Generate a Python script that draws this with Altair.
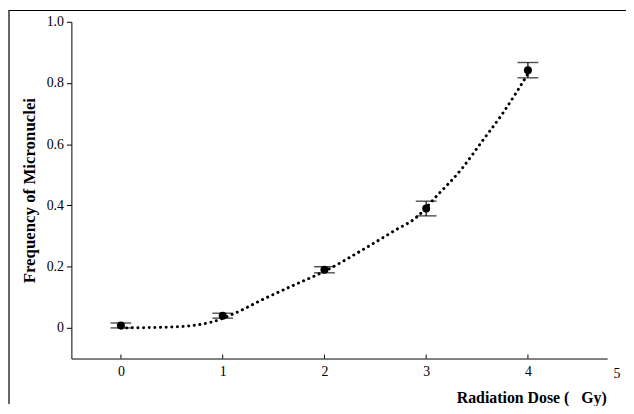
import altair as alt
import pandas as pd

# measured points (dose in Gy, micronucleus frequency, error)
dose = [0, 1, 2, 3, 4]
freq = [0.008, 0.04, 0.19, 0.39, 0.842]
err = [0.008, 0.008, 0.01, 0.024, 0.025]

# dotted fitted curve
curve_dose = [0.0, 0.5, 0.9, 1.1, 1.4, 1.7, 2.0, 2.4, 2.7, 2.9, 3.1, 3.35, 3.55, 3.75, 4.0]
curve_freq = [0.0, 0.003, 0.02, 0.045, 0.094, 0.14, 0.185, 0.26, 0.32, 0.36, 0.43, 0.52, 0.61, 0.70, 0.83]

x_ticks = [0, 1, 2, 3, 4]
y_ticks = [0, 0.2, 0.4, 0.6, 0.8, 1.0]
y_tick_labels = ["0", "0.2", "0.4", "0.6", "0.8", "1.0"]
last_x_label = "5"
x_title = "Radiation Dose (\u00a0\u00a0\u00a0Gy)"
y_title = "Frequency of Micronuclei"

pts = pd.DataFrame({"dose": dose, "freq": freq, "err": err})
pts["lo"] = pts["freq"] - pts["err"]
pts["hi"] = pts["freq"] + pts["err"]
curve = pd.DataFrame({"dose": curve_dose, "freq": curve_freq})
ticks = pd.DataFrame({"dose": x_ticks})

FONT = "Liberation Serif"
xs = alt.Scale(domain=[-0.487, 4.779], nice=False, zero=False)
ys = alt.Scale(domain=[-0.1, 1.0], nice=False, zero=False)

label_expr = "{" + ",".join(f"'{v:g}':'{l}'" for v, l in zip(y_ticks, y_tick_labels)) + "}[''+datum.value]"

x_axis = alt.Axis(values=x_ticks, format="d", ticks=False, labelPadding=6, labelFont=FONT,
                  labelFontSize=14, labelColor="black", domainColor="black",
                  grid=False, title=x_title, titleFont=FONT,
                  titleFontSize=16, titleFontWeight="bold", titleColor="black",
                  titleX=540, titleY=44, titleAlign="right", titleBaseline="alphabetic",
                  titleAngle=0)
y_axis = alt.Axis(values=y_ticks, labelExpr=label_expr, tickSize=5, tickColor="black",
                  labelPadding=3, labelFont=FONT, labelFontSize=14, labelColor="black",
                  domainColor="black", grid=False, title=y_title,
                  titleFont=FONT, titleFontSize=17, titleFontWeight="bold",
                  titleColor="black", titleX=-42, titleY=170, titleAngle=-90,
                  titleBaseline="middle", titleAlign="center")

line = alt.Chart(curve).mark_line(
    color="black", strokeWidth=3, strokeDash=[0.1, 5.6], strokeCap="round",
    interpolate="monotone"
).encode(
    x=alt.X("dose:Q", scale=xs, axis=x_axis),
    y=alt.Y("freq:Q", scale=ys, axis=y_axis),
)

bars = alt.Chart(pts).mark_rule(color="black", strokeWidth=1.2).encode(
    x=alt.X("dose:Q", scale=xs), y=alt.Y("lo:Q", scale=ys), y2="hi:Q"
)
cap_lo = alt.Chart(pts).mark_tick(color="black", orient="horizontal", size=21, thickness=1.4).encode(
    x=alt.X("dose:Q", scale=xs), y=alt.Y("lo:Q", scale=ys)
)
cap_hi = alt.Chart(pts).mark_tick(color="black", orient="horizontal", size=21, thickness=1.4).encode(
    x=alt.X("dose:Q", scale=xs), y=alt.Y("hi:Q", scale=ys)
)
points = alt.Chart(pts).mark_point(filled=True, shape="circle", size=65, color="black", opacity=1).encode(
    x=alt.X("dose:Q", scale=xs), y=alt.Y("freq:Q", scale=ys)
)

inner_ticks = alt.Chart(ticks).mark_rule(color="black", strokeWidth=1).encode(
    x=alt.X("dose:Q", scale=xs), y=alt.datum(-0.1, scale=ys), y2=alt.datum(-0.087)
)

label5 = alt.Chart(pd.DataFrame({"t": [last_x_label]})).mark_text(
    font=FONT, fontSize=14, color="black", baseline="top", align="center"
).encode(text="t:N", x=alt.value(551), y=alt.value(349))

frame_left = alt.Chart(pd.DataFrame({"a": [0]})).mark_rule(color="black", strokeWidth=1.2).encode(
    x=alt.value(-63), y=alt.value(-12), y2=alt.value(386)
)
frame_top = alt.Chart(pd.DataFrame({"a": [0]})).mark_rule(color="black", strokeWidth=1.2).encode(
    y=alt.value(-11.4), x=alt.value(-63), x2=alt.value(560)
)

chart = alt.layer(
    frame_left, frame_top, line, bars, cap_lo, cap_hi, points, inner_ticks, label5
).properties(
    width=541, height=340,
    padding={"left": 64, "top": 12, "right": 19, "bottom": 46},
    autosize=alt.AutoSizeParams(type="none"),
    background="white",
).configure_view(strokeWidth=0)

chart.save("out.html", embed_options={"renderer": "svg", "actions": False})
